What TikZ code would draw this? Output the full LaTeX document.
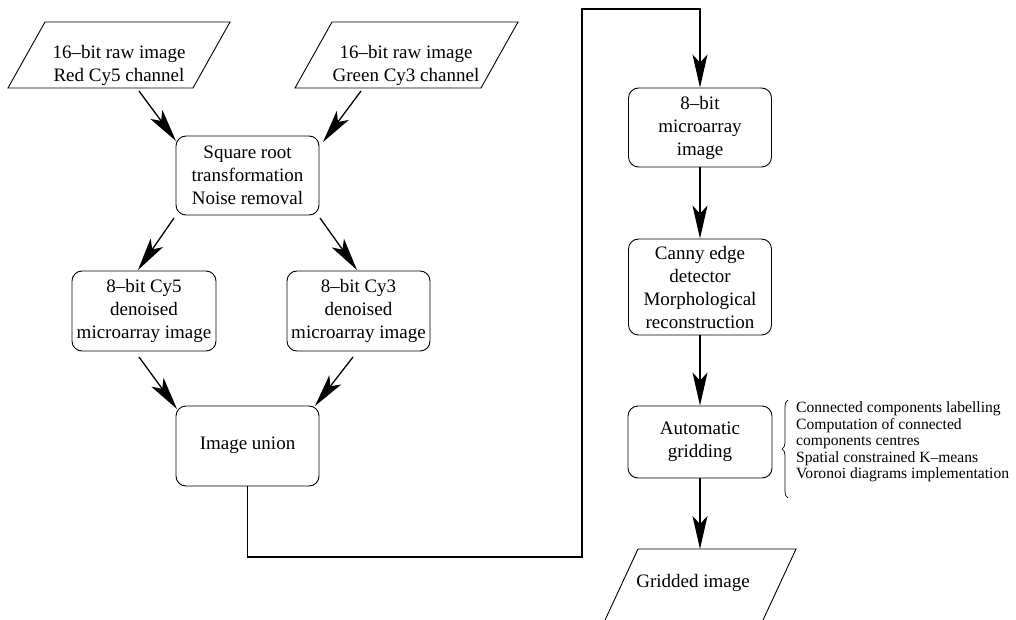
\documentclass[tikz,border=0pt]{standalone}
\usepackage{fontspec}
\setmainfont{Liberation Serif}
\usetikzlibrary{arrows.meta,decorations.pathreplacing}
\begin{document}
\begin{tikzpicture}[x=1pt,y=-1pt,
  box/.style={draw, rounded corners=10pt, line width=0.9pt, align=center, inner sep=0pt,
    font=\rmfamily\fontsize{19}{23}\selectfont},
  para/.style={draw, line width=0.9pt},
  txt/.style={align=center, inner sep=0pt, font=\rmfamily\fontsize{19}{23}\selectfont},
  conn/.style={line width=1.3pt, -{Stealth[length=33pt,width=15pt,inset=8pt]}},
  side/.style={anchor=west, align=left, inner sep=0pt, font=\rmfamily\fontsize{15.6}{16.5}\selectfont}]
\useasboundingbox (0,0) rectangle (1016,620);
\clip (0,0) rectangle (1016,620);

% input parallelograms
\draw[para] (45,22) -- (230,22) -- (193,88) -- (8,88) -- cycle;
\node[txt] (in1) at (119,65) {16–bit raw image\\Red Cy5 channel};
\draw[para] (332,22) -- (518,22) -- (481,88) -- (295,88) -- cycle;
\node[txt] (in2) at (406,65) {16–bit raw image\\Green Cy3 channel};

% boxes
\node[box, minimum width=143pt, minimum height=79pt] (sq) at (247.5,175.5)
  {Square root\\transformation\\Noise removal};
\node[box, minimum width=144pt, minimum height=80pt] (cy5) at (144,311)
  {8–bit Cy5\\denoised\\microarray image};
\node[box, minimum width=143pt, minimum height=80pt] (cy3) at (358.5,311)
  {8–bit Cy3\\denoised\\microarray image};
\node[box, minimum width=143pt, minimum height=80pt] (uni) at (247.5,446)
  {\raisebox{5pt}{Image union}};
\node[box, minimum width=143pt, minimum height=79pt] (m8) at (700,127.5)
  {8–bit\\microarray\\image};
\node[box, minimum width=143pt, minimum height=96pt] (canny) at (700,287)
  {Canny edge\\detector\\Morphological\\reconstruction};
\node[box, minimum width=144pt, minimum height=72pt] (grid) at (700,442)
  {Automatic\\gridding};

% output parallelogram
\draw[para] (638,549) -- (796,549) -- (758.4,630) -- (600.4,630) -- cycle;
\node[txt] (out) at (693,583) {Gridded image};
\coordinate (outtop) at (700,549);

% brace and side text
\draw[line width=0.7pt, decorate, decoration={brace, amplitude=6pt}] (788,498) -- (788,400);
\node[side] (bt) at (796,442) {Connected components labelling\\Computation of connected\\components centres\\Spatial constrained K–means\\Voronoi diagrams implementation};

% connector end points
\coordinate (a1s) at (139,91);  \coordinate (a1e) at (176,141);
\coordinate (a2s) at (361,91);  \coordinate (a2e) at (323,142);
\coordinate (a3s) at (174,218); \coordinate (a3e) at (138,270);
\coordinate (a4s) at (320,218); \coordinate (a4e) at (357,270);
\coordinate (a5s) at (139,357); \coordinate (a5e) at (177,409);
\coordinate (a6s) at (353,357); \coordinate (a6e) at (315,406);
\coordinate (b1) at (247.5,557);
\coordinate (b2) at (582,9);

\draw[conn] (a1s) -- (a1e);
\draw[conn] (a2s) -- (a2e);
\draw[conn] (a3s) -- (a3e);
\draw[conn] (a4s) -- (a4e);
\draw[conn] (a5s) -- (a5e);
\draw[conn] (a6s) -- (a6e);
\draw[conn] (uni.south) -- (b1) -| (b2) -| (m8.north);
\draw[conn] (m8.south) -- (canny.north);
\draw[conn] (canny.south) -- (grid.north);
\draw[conn] (grid.south) -- (outtop);
\end{tikzpicture}
\end{document}
